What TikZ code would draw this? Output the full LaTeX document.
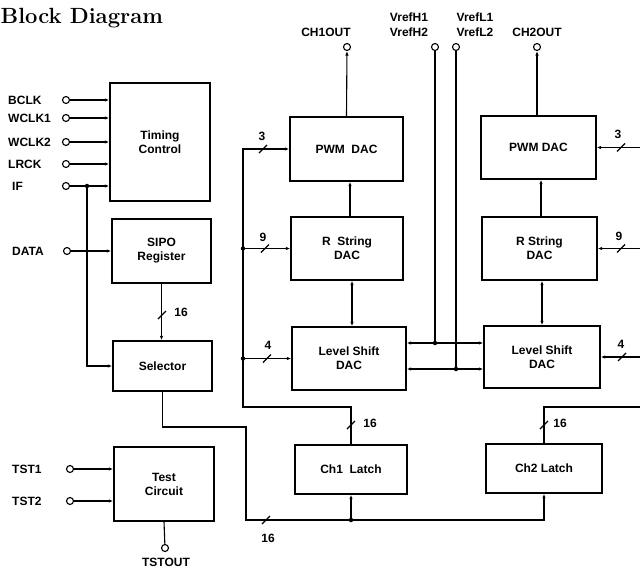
\documentclass[tikz,border=0pt]{standalone}
\usepackage{fontspec}
\newfontfamily\labfont{Liberation Sans}
\usetikzlibrary{arrows.meta,calc}
\newcommand\bslash[1]{\draw[wire] ($(#1)+(-4,4)$) -- ($(#1)+(4,-4)$);}
\begin{document}
\begin{tikzpicture}[x=1pt,y=-1pt,
 box/.style={draw,line width=1.4pt,inner sep=0pt,align=center,font=\labfont\bfseries\fontsize{12}{14}\selectfont},
 sz/.style 2 args={minimum width=#1pt,minimum height=#2pt},
 wire/.style={line width=1.1pt},
 arr/.style={wire,-{Latex[length=4.5pt,width=3.5pt]}},
 darr/.style={wire,{Latex[length=4.5pt,width=3.5pt]}-{Latex[length=4.5pt,width=3.5pt]}},
 pinc/.style={circle,draw,fill=white,line width=1.1pt,minimum size=7pt,inner sep=0pt},
 lbl/.style={font=\labfont\bfseries\fontsize{12}{13}\selectfont,inner sep=0pt,align=center},
 dot/.style={circle,fill,minimum size=4.5pt,inner sep=0pt},
]
\useasboundingbox (0,0) rectangle (640,568);
\node[anchor=base west,inner sep=0pt,font=\fontsize{22}{25}\selectfont\bfseries] (title) at (0.5,23) {Block Diagram};

% boxes
\node[box,sz={100}{118}] (tim) at (160,142) {Timing\\Control};
\node[box,sz={99}{64}] (sipo) at (161.5,251) {SIPO\\Register};
\node[box,sz={99}{50}] (sel) at (162.5,366) {Selector};
\node[box,sz={100}{74}] (tst) at (164,484) {Test\\Circuit};
\node[box,sz={113}{64}] (pwm1) at (346.5,149) {PWM\ \ DAC};
\node[box,sz={112}{63}] (rs1) at (347,248.5) {R\ \ String\\DAC};
\node[box,sz={114}{63}] (ls1) at (349,358.5) {Level Shift\\DAC};
\node[box,sz={115}{63}] (pwm2) at (538.5,147.5) {PWM DAC};
\node[box,sz={115}{63}] (rs2) at (539.5,248.5) {R String\\DAC};
\node[box,sz={116}{62}] (ls2) at (542,357) {Level Shift\\DAC};
\node[box,sz={112}{49}] (l1) at (351,469.5) {Ch1\ \ Latch};
\node[box,sz={116}{49}] (l2) at (544,468.5) {Ch2 Latch};

% left input pins
\node[pinc] (pbclk) at (66,100) {};
\node[pinc] (pwclk1) at (66,118) {};
\node[pinc] (pwclk2) at (66,142) {};
\node[pinc] (plrck) at (66,164) {};
\node[pinc] (pif) at (66,186) {};
\node[pinc] (pdata) at (67,251) {};
\node[pinc] (ptst1) at (70,469) {};
\node[pinc] (ptst2) at (70,501) {};
\node[pinc] (ptstout) at (165,548) {};
\node[lbl,anchor=west] (tbclk) at (8,100) {BCLK};
\node[lbl,anchor=west] (twclk1) at (8,118) {WCLK1};
\node[lbl,anchor=west] (twclk2) at (8,142) {WCLK2};
\node[lbl,anchor=west] (tlrck) at (8,164) {LRCK};
\node[lbl,anchor=west] (tif) at (12,186) {IF};
\node[lbl,anchor=west] (tdata) at (12,251) {DATA};
\node[lbl,anchor=west] (ttst1) at (12,469) {TST1};
\node[lbl,anchor=west] (ttst2) at (12,501) {TST2};
\node[lbl] (ttstout) at (166,562) {TSTOUT};

\draw[arr] (pbclk) -- (pbclk -| tim.west);
\draw[arr] (pwclk1) -- (pwclk1 -| tim.west);
\draw[arr] (pwclk2) -- (pwclk2 -| tim.west);
\draw[arr] (plrck) -- (plrck -| tim.west);
\draw[arr] (pif) -- (pif -| tim.west);
\coordinate (jif) at (87,186);
\node[dot] (djif) at (jif) {};
\draw[arr] (jif) |- (sel.west);
\draw[arr] (pdata) -- (pdata -| sipo.west);
\draw[arr] (ptst1) -- (ptst1 -| tst.west);
\draw[arr] (ptst2) -- (ptst2 -| tst.west);
\draw[wire] (tst.south) -- (ptstout);

% SIPO to selector
\draw[arr] (sipo.south) -- (sipo.south |- sel.north);
\bslash{162,315}
\node[lbl] (n16a) at (181,312) {16};

% top pins
\node[pinc] (pch1) at (347,47) {};
\node[pinc] (pch2) at (537,47) {};
\node[pinc] (pvh) at (435,47) {};
\node[pinc] (pvl) at (456,47) {};
\node[lbl] (tch1) at (326,32) {CH1OUT};
\node[lbl] (tch2) at (537,32) {CH2OUT};
\node[lbl,font=\labfont\bfseries\fontsize{12}{15}\selectfont] (tvh) at (409,24.5) {VrefH1\\VrefH2};
\node[lbl,font=\labfont\bfseries\fontsize{12}{15}\selectfont] (tvl) at (475,24.5) {VrefL1\\VrefL2};
\draw[arr] (pwm1.north) -- (pch1);
\draw[arr] (pwm2.north -| pch2) -- (pch2);

% inter-DAC
\draw[arr] (rs1.north -| 350,0) -- (pwm1.south -| 350,0);
\draw[darr] (ls1.north -| 352,0) -- (rs1.south -| 352,0);
\draw[arr] (rs2.north -| 541,0) -- (pwm2.south -| 541,0);
\draw[darr] (ls2.north -| 542,0) -- (rs2.south -| 542,0);

% Vref lines
\coordinate (jh) at (435,343);
\coordinate (jl) at (456,369);
\draw[wire] (pvh) -- (jh);
\draw[wire] (pvl) -- (jl);
\draw[arr] (jh) -- (jh -| ls1.east);
\draw[arr] (jh) -- (jh -| ls2.west);
\draw[arr] (jl) -- (jl -| ls1.east);
\draw[arr] (jl) -- (jl -| ls2.west);
\node[dot] (djh) at (jh) {};
\node[dot] (djl) at (jl) {};

% left bus
\coordinate (bT) at (243,149);
\coordinate (bB) at (243,407);
\draw[arr] (l1.north) |- (bB) -- (bT) -- (pwm1.west);
\draw[arr] (bT |- rs1.west) -- (rs1.west);
\draw[arr] (bT |- ls1.west) -- (ls1.west);
\node[dot] (db9) at (bT |- rs1.west) {};
\node[dot] (db4) at (bT |- ls1.west) {};
\bslash{263,149}
\bslash{265,248.5}
\bslash{267,358.5}
\node[lbl] (n3a) at (262,136) {3};
\node[lbl] (n9a) at (263,237) {9};
\node[lbl] (n4a) at (268,345) {4};
\bslash{351,425}
\node[lbl] (n16b) at (370,423) {16};

% right bus
\coordinate (rB) at (640,407);
\draw[wire] (l2.north) |- (rB);
\draw[arr] (pwm2.east -| rB) -- (pwm2.east);
\draw[arr] (rs2.east -| rB) -- (rs2.east);
\draw[arr] (ls2.east -| rB) -- (ls2.east);
\bslash{621,147.5}
\bslash{621,248.5}
\bslash{622,357}
\node[lbl] (n3b) at (618,134) {3};
\node[lbl] (n9b) at (619,236) {9};
\node[lbl] (n4b) at (621,344) {4};
\bslash{544,425}
\node[lbl] (n16c) at (560,423) {16};

% selector to latches
\coordinate (cb1) at (246,427);
\coordinate (cb2) at (246,520);
\draw[arr] (sel.south) |- (cb1) -- (cb2) -| (l2.south);
\draw[arr] (cb2 -| l1.south) -- (l1.south);
\node[dot] (dl1) at (cb2 -| l1.south) {};
\bslash{266,520}
\node[lbl] (n16d) at (268,538) {16};
\end{tikzpicture}
\end{document}
